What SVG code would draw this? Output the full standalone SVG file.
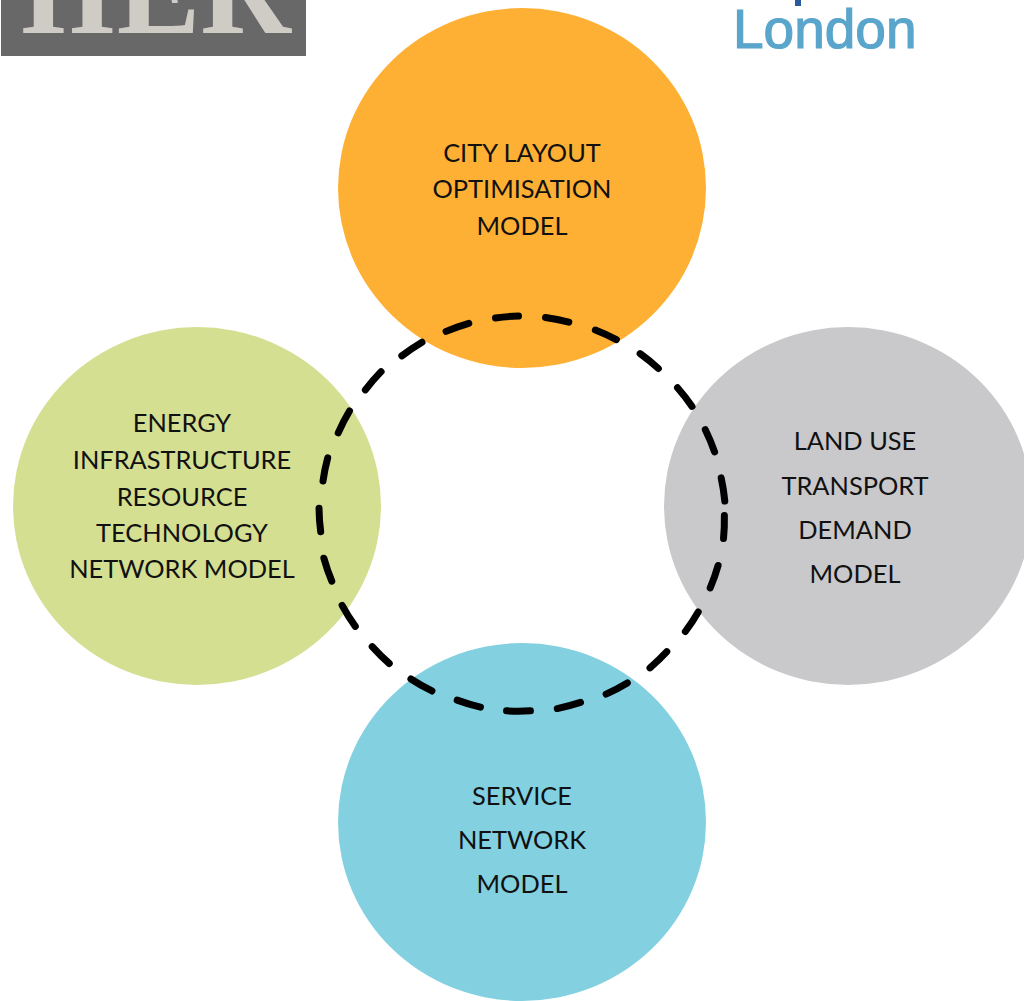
<svg xmlns="http://www.w3.org/2000/svg" width="1024" height="1001" viewBox="0 0 1024 1001">
<style>
.l{font-family:Lato,"Open Sans",sans-serif;font-size:25.4px;fill:#111;text-anchor:middle}
#connectors path{fill:none;stroke:#000;stroke-width:7;stroke-linecap:round;stroke-dasharray:84 100;stroke-dashoffset:-8}
</style>
<rect width="1024" height="1001" fill="#fff"/>
<g id="logo-left">
<rect x="1" y="0" width="305" height="56" fill="#686868"/>
<text x="155" y="33" font-family="'Liberation Serif',serif" font-weight="bold" font-size="130" fill="#cfccc6" text-anchor="middle" textLength="272" lengthAdjust="spacingAndGlyphs">IIER</text>
</g>
<g id="logo-right">
<rect x="795" y="0" width="6" height="6" fill="#2a5a9c"/>
<text x="733" y="48" font-family="'Liberation Sans',Arial,sans-serif" font-size="55" fill="#5aa5cb" stroke="#5aa5cb" stroke-width="1.2">London</text>
</g>
<g id="node-city"><ellipse cx="522" cy="188" rx="184" ry="180" fill="#fdb034"/>
<text class="l" x="522" y="162">CITY LAYOUT</text><text class="l" x="522" y="198">OPTIMISATION</text><text class="l" x="522" y="235">MODEL</text></g>
<g id="node-energy"><ellipse cx="197" cy="506" rx="184" ry="179" fill="#d5df91"/>
<text class="l" x="182" y="432">ENERGY</text><text class="l" x="182" y="469">INFRASTRUCTURE</text><text class="l" x="182" y="506">RESOURCE</text><text class="l" x="182" y="542">TECHNOLOGY</text><text class="l" x="182" y="578">NETWORK MODEL</text></g>
<g id="node-land"><ellipse cx="848" cy="506" rx="184" ry="179" fill="#c9c9cb"/>
<text class="l" x="855" y="450">LAND USE</text><text class="l" x="855" y="495">TRANSPORT</text><text class="l" x="855" y="539">DEMAND</text><text class="l" x="855" y="583">MODEL</text></g>
<g id="node-service"><ellipse cx="522" cy="822" rx="184" ry="179" fill="#82d0e0"/>
<text class="l" x="522" y="805">SERVICE</text><text class="l" x="522" y="849">NETWORK</text><text class="l" x="522" y="893">MODEL</text></g>
<g id="connectors">
<path pathLength="100" d="M493.3 318.3A202 197 0 0 1 520.7 316"/>
<path pathLength="100" d="M543.3 317.3A202 197 0 0 1 571 322.7"/>
<path pathLength="100" d="M593.3 329.3A202 197 0 0 1 618.3 340.7"/>
<path pathLength="100" d="M638.3 352.3A202 197 0 0 1 660 370"/>
<path pathLength="100" d="M676 386A202 197 0 0 1 693.3 408.3"/>
<path pathLength="100" d="M704.3 427.7A202 197 0 0 1 715.3 454"/>
<path pathLength="100" d="M720.7 475.7A202 197 0 0 1 725 503.3"/>
<path pathLength="100" d="M724.3 513.3A202 197 0 0 1 723.3 540.7"/>
<path pathLength="100" d="M718.7 563.3A202 197 0 0 1 709.3 590"/>
<path pathLength="100" d="M699.3 610A202 197 0 0 1 684 633.3"/>
<path pathLength="100" d="M668.3 650A202 197 0 0 1 648.3 669.3"/>
<path pathLength="100" d="M629.3 681.7A202 197 0 0 1 604 695"/>
<path pathLength="100" d="M582.7 701.7A202 197 0 0 1 555 709"/>
<path pathLength="100" d="M532.7 710.7A202 197 0 0 1 504.3 710.7"/>
<path pathLength="100" d="M482.7 707.7A202 197 0 0 1 455 699.3"/>
<path pathLength="100" d="M434 692A202 197 0 0 1 409 677.7"/>
<path pathLength="100" d="M391 665A202 197 0 0 1 370.7 645"/>
<path pathLength="100" d="M356.7 628.3A202 197 0 0 1 341 603.3"/>
<path pathLength="100" d="M332.7 583.3A202 197 0 0 1 323.3 556"/>
<path pathLength="100" d="M321 534A202 197 0 0 1 319 506"/>
<path pathLength="100" d="M322.7 483.3A202 197 0 0 1 328.3 455.7"/>
<path pathLength="100" d="M337.3 435A202 197 0 0 1 350.7 409"/>
<path pathLength="100" d="M364 391.7A202 197 0 0 1 382.7 370"/>
<path pathLength="100" d="M400 357.3A202 197 0 0 1 424 341"/>
<path pathLength="100" d="M444 332.3A202 197 0 0 1 471 322.7"/>
</g>
</svg>
